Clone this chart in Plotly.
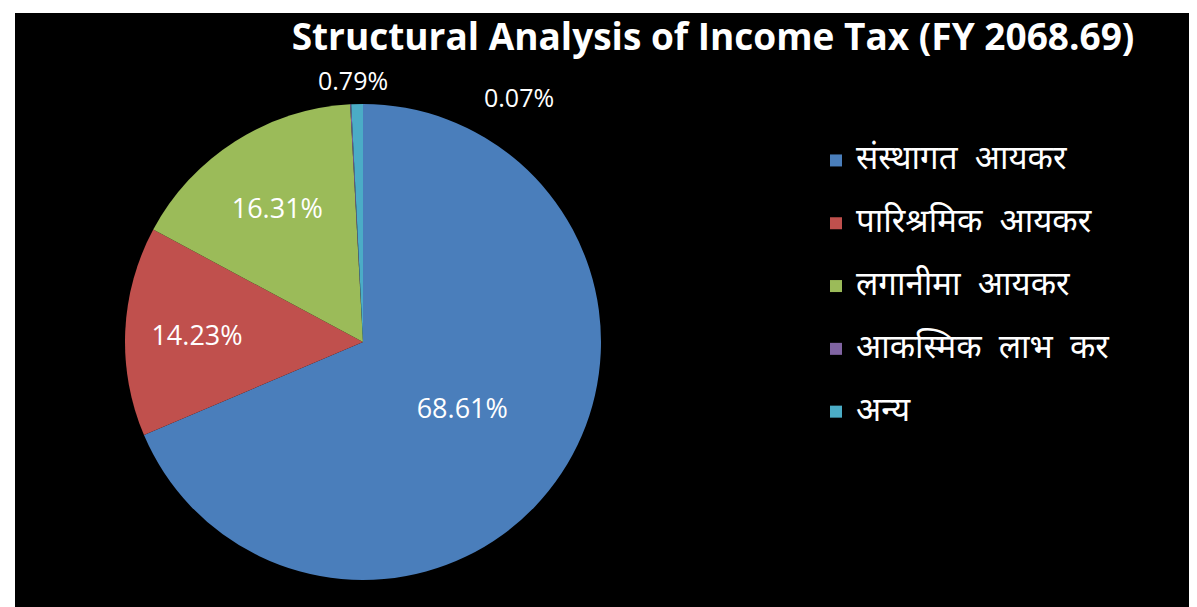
import math
import plotly.graph_objects as go

categories = ["संस्थागत  आयकर", "पारिश्रमिक  आयकर", "लगानीमा  आयकर", "आकस्मिक  लाभ  कर", "अन्य"]
values = [68.61, 14.23, 16.31, 0.07, 0.79]
colors = ["#4A7EBB", "#C0504D", "#9BBB59", "#8064A2", "#4BACC6"]
title_text = "Structural Analysis of Income Tax (FY 2068.69)"

W, H = 1197, 607
ml, mt = 7, 5
pw, ph = W - ml, H - mt
cx, cy, r = 355, 334, 238

dx0 = (cx - r - ml) / pw
dx1 = (cx + r - ml) / pw
dy0 = 1 - (cy + r - mt) / ph
dy1 = 1 - (cy - r - mt) / ph

legend_labels = ['<span style="font-size:33px">' + c + '</span><br> ' for c in categories]

# small slices get their labels outside (as annotations) like the reference
small = [v < 1 for v in values]
textpos = ["none" if s else "inside" for s in small]

fig = go.Figure(go.Pie(
    labels=legend_labels,
    values=values,
    sort=False,
    direction="clockwise",
    rotation=0,
    marker=dict(colors=colors, line=dict(width=0)),
    texttemplate="%{value:.2f}%",
    textposition=textpos,
    insidetextorientation="horizontal",
    textfont=dict(family="Open Sans, sans-serif", size=27, color="white"),
    domain=dict(x=[dx0, dx1], y=[dy0, dy1]),
    hoverinfo="label+percent",
))

# annotation positions computed from the slice mid-angles on the pie rim
total = sum(values)
annotations = []
cum = 0.0
shifts = {3: (168, -12), 4: (-4, 5)}
for i, v in enumerate(values):
    mid = (cum + v / 2) / total * 2 * math.pi
    cum += v
    if not small[i]:
        continue
    px = cx + r * math.sin(mid)
    py = cy - r * math.cos(mid)
    xs, ys = shifts[i]
    annotations.append(dict(
        x=(px - ml) / pw, y=1 - (py - mt) / ph, xref="paper", yref="paper",
        text=f"{v:.2f}%", showarrow=False, xanchor="center", yanchor="bottom",
        xshift=xs, yshift=ys,
        font=dict(family="Open Sans, sans-serif", size=25, color="white"),
    ))

fig.update_layout(
    width=W, height=H,
    margin=dict(l=ml, t=mt, r=0, b=0),
    paper_bgcolor="white",
    shapes=[dict(type="rect", xref="paper", yref="paper", x0=0, x1=1, y0=0, y1=1,
                 fillcolor="black", line=dict(width=0), layer="below")],
    annotations=annotations,
    title=dict(text="<b>" + title_text + "</b>", xref="container", yref="container",
               x=0.589, xanchor="center", y=0.952, yanchor="middle",
               font=dict(family="Open Sans, sans-serif", size=37, color="white")),
    legend=dict(x=(808 - ml) / pw, y=1 - (131 - mt) / ph, xanchor="left", yanchor="top",
                valign="top", bgcolor="rgba(0,0,0,0)",
                font=dict(family="Noto Sans, sans-serif", size=23, color="white")),
    showlegend=True,
)

fig.write_html("out.html")
